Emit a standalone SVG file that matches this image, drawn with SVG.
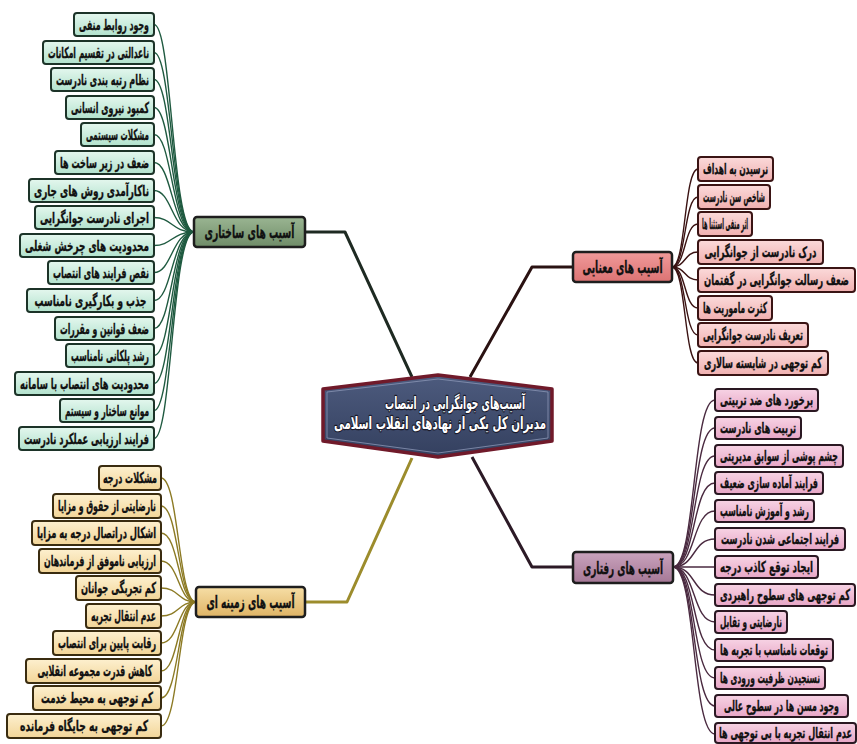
<svg xmlns="http://www.w3.org/2000/svg" width="857" height="744" viewBox="0 0 857 744">
<defs>
<linearGradient id="gG" x1="0" y1="0" x2="0" y2="1"><stop offset="0" stop-color="#e4f7ee"/><stop offset="1" stop-color="#b2e2cd"/></linearGradient>
<linearGradient id="gR" x1="0" y1="0" x2="0" y2="1"><stop offset="0" stop-color="#fbdada"/><stop offset="1" stop-color="#f0b0b0"/></linearGradient>
<linearGradient id="gP" x1="0" y1="0" x2="0" y2="1"><stop offset="0" stop-color="#f7d3e4"/><stop offset="1" stop-color="#e7a6c6"/></linearGradient>
<linearGradient id="gY" x1="0" y1="0" x2="0" y2="1"><stop offset="0" stop-color="#fdf0cf"/><stop offset="1" stop-color="#f2d598"/></linearGradient>
<linearGradient id="hG" x1="0" y1="0" x2="0" y2="1"><stop offset="0" stop-color="#9ab592"/><stop offset="1" stop-color="#6f8c68"/></linearGradient>
<linearGradient id="hR" x1="0" y1="0" x2="0" y2="1"><stop offset="0" stop-color="#f09a9a"/><stop offset="1" stop-color="#dc7373"/></linearGradient>
<linearGradient id="hP" x1="0" y1="0" x2="0" y2="1"><stop offset="0" stop-color="#caa3bd"/><stop offset="1" stop-color="#a57896"/></linearGradient>
<linearGradient id="hY" x1="0" y1="0" x2="0" y2="1"><stop offset="0" stop-color="#f6dea6"/><stop offset="1" stop-color="#dfb465"/></linearGradient>
<linearGradient id="hC" x1="0" y1="0" x2="0" y2="1"><stop offset="0" stop-color="#4d5b7e"/><stop offset="1" stop-color="#34405f"/></linearGradient>
</defs>
<style>
text{font-family:"DejaVu Sans",sans-serif;font-weight:bold;text-anchor:middle;fill:#111}
.lf text,.hub text{stroke:#111;stroke-width:0.35px}
.lf text{font-size:15px}
.hub text{font-size:17px}
.lf rect,.hub rect{stroke-width:2;rx:3;ry:3}
.g rect{fill:url(#gG);stroke:#1c3328}
.r rect{fill:url(#gR);stroke:#3a1414}
.p rect{fill:url(#gP);stroke:#2a1822}
.y rect{fill:url(#gY);stroke:#3a2c10}
.hub rect{stroke:#1e1e1e;stroke-width:2.5}
#hub-structural rect{fill:url(#hG)}
#hub-meaning rect{fill:url(#hR)}
#hub-behavioral rect{fill:url(#hP)}
#hub-contextual rect{fill:url(#hY)}
.c path{fill:none}
.cg path{stroke:#1f5a40;stroke-width:1.4}
.cr path{stroke:#3a1212;stroke-width:1.4}
.cp path{stroke:#4a2a40;stroke-width:1.4}
.cy path{stroke:#8c7a24;stroke-width:1.4}
.main path{fill:none;stroke-width:3;stroke-linejoin:round}
#center text{fill:#fff;font-size:17px;stroke:#1a1a2a;stroke-width:2.4px;paint-order:stroke;stroke-linejoin:round}
</style>

<g id="connectors">
<g class="main">
<path d="M412,377 L345,232 L305,232" stroke="#1e2a22"/>
<path d="M470,377 L532,267 L573,267" stroke="#2a1212"/>
<path d="M412,458 L347,602 L305,602" stroke="#9c8c2c"/>
<path d="M472,457 L532,567 L573,567" stroke="#2c1a26"/>
</g>
<g class="c cg">
<path d="M154,24.5 C172,24.5 172,232 194,232"/>
<path d="M154,52.5 C172,52.5 172,232 194,232"/>
<path d="M154,79.5 C172,79.5 172,232 194,232"/>
<path d="M154,107.5 C172,107.5 172,232 194,232"/>
<path d="M154,134.5 C172,134.5 172,232 194,232"/>
<path d="M154,162.5 C172,162.5 172,232 194,232"/>
<path d="M154,190.5 C172,190.5 172,232 194,232"/>
<path d="M154,217.5 C172,217.5 172,232 194,232"/>
<path d="M154,245.5 C172,245.5 172,232 194,232"/>
<path d="M154,272.5 C172,272.5 172,232 194,232"/>
<path d="M154,300.5 C172,300.5 172,232 194,232"/>
<path d="M154,328.5 C172,328.5 172,232 194,232"/>
<path d="M154,355.5 C172,355.5 172,232 194,232"/>
<path d="M154,383.5 C172,383.5 172,232 194,232"/>
<path d="M154,410.5 C172,410.5 172,232 194,232"/>
<path d="M154,438.5 C172,438.5 172,232 194,232"/>
</g>
<g class="c cr">
<path d="M672,267 C686,267 684,169 698,169"/>
<path d="M672,267 C686,267 684,197 698,197"/>
<path d="M672,267 C686,267 684,224 698,224"/>
<path d="M672,267 C686,267 684,252 698,252"/>
<path d="M672,267 C686,267 684,280 698,280"/>
<path d="M672,267 C686,267 684,308 698,308"/>
<path d="M672,267 C686,267 684,335 698,335"/>
<path d="M672,267 C686,267 684,363 698,363"/>
</g>
<g class="c cp">
<path d="M673,567 C696,567 692,400 715,400"/>
<path d="M673,567 C696,567 692,428 715,428"/>
<path d="M673,567 C696,567 692,456 715,456"/>
<path d="M673,567 C696,567 692,483 715,483"/>
<path d="M673,567 C696,567 692,511 715,511"/>
<path d="M673,567 C696,567 692,539 715,539"/>
<path d="M673,567 C696,567 692,567 715,567"/>
<path d="M673,567 C696,567 692,595 715,595"/>
<path d="M673,567 C696,567 692,622 715,622"/>
<path d="M673,567 C696,567 692,650 715,650"/>
<path d="M673,567 C696,567 692,678 715,678"/>
<path d="M673,567 C696,567 692,706 715,706"/>
<path d="M673,567 C696,567 692,734 715,734"/>
</g>
<g class="c cy">
<path d="M196,602 C178,602 179,478 161,478"/>
<path d="M196,602 C178,602 179,506 161,506"/>
<path d="M196,602 C178,602 179,533 161,533"/>
<path d="M196,602 C178,602 179,561 161,561"/>
<path d="M196,602 C178,602 179,588 161,588"/>
<path d="M196,602 C178,602 179,616 161,616"/>
<path d="M196,602 C178,602 179,643 161,643"/>
<path d="M196,602 C178,602 179,671 161,671"/>
<path d="M196,602 C178,602 179,698 161,698"/>
<path d="M196,602 C178,602 179,726 161,726"/>
</g>
</g>

<g id="center">
<polygon points="438,375 552,389 552,441 438,457 323,441 323,389" fill="url(#hC)" stroke="#701a2a" stroke-width="3.5" stroke-linejoin="round"/>
<polygon points="438,379 548,392 548,438 438,453 327,438 327,392" fill="none" stroke="#8a95b5" stroke-width="0.8"/>
<text x="455" y="409" textLength="140" lengthAdjust="spacingAndGlyphs">آسیب‌های جوانگرایی در انتصاب</text>
<text x="440" y="429" textLength="212" lengthAdjust="spacingAndGlyphs">مدیران کل یکی از نهادهای انقلاب اسلامی</text>
</g>

<g id="hub-structural" class="hub"><rect x="194" y="217" width="111" height="30"/><text x="249.5" y="238" textLength="90" lengthAdjust="spacingAndGlyphs">آسیب های ساختاری</text></g>
<g id="hub-meaning" class="hub"><rect x="573" y="252" width="99" height="30"/><text x="622.5" y="273" textLength="80" lengthAdjust="spacingAndGlyphs">آسیب های معنایی</text></g>
<g id="hub-behavioral" class="hub"><rect x="573" y="552" width="100" height="31"/><text x="623" y="573.5" textLength="80" lengthAdjust="spacingAndGlyphs">آسیب های رفتاری</text></g>
<g id="hub-contextual" class="hub"><rect x="196" y="587" width="109" height="30"/><text x="250.5" y="608" textLength="88" lengthAdjust="spacingAndGlyphs">آسیب های زمینه ای</text></g>

<g id="structural-leaves" class="lf g">
<g id="s1"><rect x="74" y="13" width="80" height="23"/><text x="114" y="29.5" textLength="70" lengthAdjust="spacingAndGlyphs">وجود روابط منفی</text></g>
<g id="s2"><rect x="43" y="41" width="111" height="23"/><text x="98.5" y="57.5" textLength="101" lengthAdjust="spacingAndGlyphs">ناعدالتی در تقسیم امکانات</text></g>
<g id="s3"><rect x="51" y="68" width="103" height="23"/><text x="102.5" y="84.5" textLength="93" lengthAdjust="spacingAndGlyphs">نظام رتبه بندی نادرست</text></g>
<g id="s4"><rect x="66" y="96" width="88" height="23"/><text x="110" y="112.5" textLength="78" lengthAdjust="spacingAndGlyphs">کمبود نیروی انسانی</text></g>
<g id="s5"><rect x="81" y="123" width="73" height="23"/><text x="117.5" y="139.5" textLength="63" lengthAdjust="spacingAndGlyphs">مشکلات سیستمی</text></g>
<g id="s6"><rect x="55" y="151" width="99" height="23"/><text x="104.5" y="167.5" textLength="89" lengthAdjust="spacingAndGlyphs">ضعف در زیر ساخت ها</text></g>
<g id="s7"><rect x="29" y="179" width="125" height="23"/><text x="91.5" y="195.5" textLength="115" lengthAdjust="spacingAndGlyphs">ناکارآمدی روش های جاری</text></g>
<g id="s8"><rect x="35" y="206" width="119" height="23"/><text x="94.5" y="222.5" textLength="109" lengthAdjust="spacingAndGlyphs">اجرای نادرست جوانگرایی</text></g>
<g id="s9"><rect x="20" y="234" width="134" height="23"/><text x="87" y="250.5" textLength="124" lengthAdjust="spacingAndGlyphs">محدودیت های چرخش شغلی</text></g>
<g id="s10"><rect x="48" y="261" width="106" height="23"/><text x="101" y="277.5" textLength="96" lengthAdjust="spacingAndGlyphs">نقص فرایند های انتصاب</text></g>
<g id="s11"><rect x="27" y="289" width="127" height="23"/><text x="90.5" y="305.5" textLength="112" lengthAdjust="spacingAndGlyphs">جذب و بکارگیری نامناسب</text></g>
<g id="s12"><rect x="55" y="317" width="99" height="23"/><text x="104.5" y="333.5" textLength="89" lengthAdjust="spacingAndGlyphs">ضعف قوانین و مقررات</text></g>
<g id="s13"><rect x="66" y="344" width="88" height="23"/><text x="110" y="360.5" textLength="78" lengthAdjust="spacingAndGlyphs">رشد پلکانی نامناسب</text></g>
<g id="s14"><rect x="15" y="372" width="139" height="23"/><text x="84.5" y="388.5" textLength="129" lengthAdjust="spacingAndGlyphs">محدودیت های انتصاب با سامانه</text></g>
<g id="s15"><rect x="60" y="399" width="94" height="23"/><text x="107" y="415.5" textLength="84" lengthAdjust="spacingAndGlyphs">موانع ساختار و سیستم</text></g>
<g id="s16"><rect x="19" y="427" width="135" height="23"/><text x="86.5" y="443.5" textLength="125" lengthAdjust="spacingAndGlyphs">فرایند ارزیابی عملکرد نادرست</text></g>
</g>

<g id="meaning-leaves" class="lf r">
<g id="m1"><rect x="698" y="157" width="75" height="24"/><text x="735.5" y="174" textLength="65" lengthAdjust="spacingAndGlyphs">نرسیدن به اهداف</text></g>
<g id="m2"><rect x="698" y="185" width="72" height="24"/><text x="734" y="202" textLength="62" lengthAdjust="spacingAndGlyphs">شاخص سن نادرست</text></g>
<g id="m3"><rect x="698" y="212" width="54" height="24"/><text x="725" y="229" textLength="46" lengthAdjust="spacingAndGlyphs">اثر منفی استثنا ها</text></g>
<g id="m4"><rect x="698" y="240" width="125" height="24"/><text x="760.5" y="257" textLength="112" lengthAdjust="spacingAndGlyphs">درک نادرست از جوانگرایی</text></g>
<g id="m5"><rect x="698" y="268" width="157" height="24"/><text x="776.5" y="285" textLength="145" lengthAdjust="spacingAndGlyphs">ضعف رسالت جوانگرایی در گفتمان</text></g>
<g id="m6"><rect x="698" y="296" width="74" height="24"/><text x="735" y="313" textLength="64" lengthAdjust="spacingAndGlyphs">کثرت ماموریت ها</text></g>
<g id="m7"><rect x="698" y="323" width="110" height="24"/><text x="753" y="340" textLength="100" lengthAdjust="spacingAndGlyphs">تعریف نادرست جوانگرایی</text></g>
<g id="m8"><rect x="698" y="351" width="130" height="24"/><text x="763" y="368" textLength="118" lengthAdjust="spacingAndGlyphs">کم توجهی در شایسته سالاری</text></g>
</g>

<g id="behavioral-leaves" class="lf p">
<g id="b1"><rect x="715" y="389" width="103" height="22"/><text x="766.5" y="405" textLength="93" lengthAdjust="spacingAndGlyphs">برخورد های ضد تربیتی</text></g>
<g id="b2"><rect x="715" y="417" width="86" height="22"/><text x="758" y="433" textLength="76" lengthAdjust="spacingAndGlyphs">تربیت های نادرست</text></g>
<g id="b3"><rect x="715" y="445" width="128" height="22"/><text x="779" y="461" textLength="118" lengthAdjust="spacingAndGlyphs">چشم پوشی از سوابق مدیریتی</text></g>
<g id="b4"><rect x="715" y="472" width="108" height="22"/><text x="769" y="488" textLength="98" lengthAdjust="spacingAndGlyphs">فرایند آماده سازی ضعیف</text></g>
<g id="b5"><rect x="715" y="500" width="99" height="22"/><text x="764.5" y="516" textLength="89" lengthAdjust="spacingAndGlyphs">رشد و آموزش نامناسب</text></g>
<g id="b6"><rect x="715" y="528" width="130" height="22"/><text x="780" y="544" textLength="118" lengthAdjust="spacingAndGlyphs">فرایند اجتماعی شدن نادرست</text></g>
<g id="b7"><rect x="715" y="556" width="103" height="22"/><text x="766.5" y="572" textLength="93" lengthAdjust="spacingAndGlyphs">ایجاد توقع کاذب درجه</text></g>
<g id="b8"><rect x="715" y="584" width="140" height="22"/><text x="785" y="600" textLength="130" lengthAdjust="spacingAndGlyphs">کم توجهی های سطوح راهبردی</text></g>
<g id="b9"><rect x="715" y="611" width="72" height="22"/><text x="751" y="627" textLength="62" lengthAdjust="spacingAndGlyphs">نارضایتی و تقابل</text></g>
<g id="b10"><rect x="715" y="639" width="118" height="22"/><text x="774" y="655" textLength="108" lengthAdjust="spacingAndGlyphs">توقعات نامناسب با تجربه ها</text></g>
<g id="b11"><rect x="715" y="667" width="110" height="22"/><text x="770" y="683" textLength="100" lengthAdjust="spacingAndGlyphs">نسنجیدن ظرفیت ورودی ها</text></g>
<g id="b12"><rect x="715" y="695" width="133" height="22"/><text x="781.5" y="711" textLength="115" lengthAdjust="spacingAndGlyphs">وجود مسن ها در سطوح عالی</text></g>
<g id="b13"><rect x="715" y="723" width="141" height="20"/><text x="785.5" y="738" textLength="133" lengthAdjust="spacingAndGlyphs">عدم انتقال تجربه با بی توجهی ها</text></g>
</g>

<g id="contextual-leaves" class="lf y">
<g id="c1"><rect x="99" y="466" width="62" height="24"/><text x="130" y="483" textLength="54" lengthAdjust="spacingAndGlyphs">مشکلات درجه</text></g>
<g id="c2"><rect x="53" y="494" width="108" height="24"/><text x="107" y="511" textLength="98" lengthAdjust="spacingAndGlyphs">نارضایتی از حقوق و مزایا</text></g>
<g id="c3"><rect x="32" y="521" width="129" height="24"/><text x="96.5" y="538" textLength="119" lengthAdjust="spacingAndGlyphs">اشکال دراتصال درجه به مزایا</text></g>
<g id="c4"><rect x="39" y="549" width="122" height="24"/><text x="100" y="566" textLength="112" lengthAdjust="spacingAndGlyphs">ارزیابی ناموفق از فرماندهان</text></g>
<g id="c5"><rect x="76" y="576" width="85" height="24"/><text x="118.5" y="593" textLength="75" lengthAdjust="spacingAndGlyphs">کم تجربگی جوانان</text></g>
<g id="c6"><rect x="86" y="604" width="75" height="24"/><text x="123.5" y="621" textLength="65" lengthAdjust="spacingAndGlyphs">عدم انتقال تجربه</text></g>
<g id="c7"><rect x="53" y="631" width="108" height="24"/><text x="107" y="648" textLength="98" lengthAdjust="spacingAndGlyphs">رقابت پایین برای انتصاب</text></g>
<g id="c8"><rect x="26" y="659" width="135" height="24"/><text x="95" y="676" textLength="115" lengthAdjust="spacingAndGlyphs">کاهش قدرت مجموعه انقلابی</text></g>
<g id="c9"><rect x="33" y="686" width="128" height="24"/><text x="97" y="703" textLength="112" lengthAdjust="spacingAndGlyphs">کم توجهی به محیط خدمت</text></g>
<g id="c10"><rect x="7" y="714" width="154" height="24"/><text x="84" y="731" textLength="128" lengthAdjust="spacingAndGlyphs">کم توجهی به جایگاه فرمانده</text></g>
</g>
</svg>
